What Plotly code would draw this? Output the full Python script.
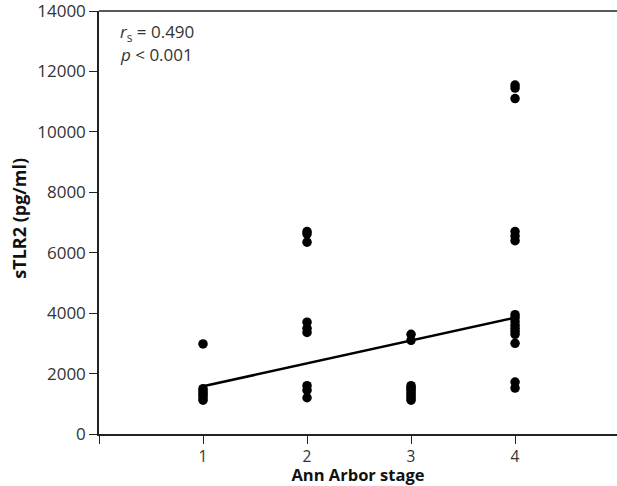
import plotly.graph_objects as go

# Ann Arbor stage of each patient and measured sTLR2 concentration (pg/ml)
stage_1 = [2980, 1500, 1430, 1350, 1280, 1200, 1120]
stage_2 = [6700, 6620, 6350, 3700, 3500, 3360, 1600, 1450, 1200]
stage_3 = [3300, 3100, 1600, 1540, 1470, 1400, 1330, 1260, 1190, 1120]
stage_4 = [11550, 11450, 11100, 6700, 6550, 6400, 3950, 3850, 3720, 3600,
           3500, 3400, 3300, 3000, 1720, 1520]

# Linear trend drawn across the stage range
fit_stage = [1, 4]
fit_value = [1580, 3850]

x_tick_vals = [0, 1, 2, 3, 4]
x_tick_text = ["", "1", "2", "3", "4"]
y_tick_vals = [0, 2000, 4000, 6000, 8000, 10000, 12000, 14000]
y_tick_text = ["0", "2000", "4000", "6000", "8000", "10000", "12000", "14000"]

xs, ys = [], []
for stage, values in enumerate([stage_1, stage_2, stage_3, stage_4], start=1):
    xs += [stage] * len(values)
    ys += values

fig = go.Figure()
fig.add_trace(go.Scatter(
    x=xs, y=ys, mode="markers",
    marker=dict(color="black", size=9.5, line=dict(width=0)),
    showlegend=False, hoverinfo="skip",
))
fig.add_trace(go.Scatter(
    x=fit_stage, y=fit_value, mode="lines",
    line=dict(color="black", width=2.5),
    showlegend=False, hoverinfo="skip",
))

axis_color = "#222222"
font_family = "Open Sans, DejaVu Sans, sans-serif"
fig.update_layout(
    template="none",
    width=617, height=486,
    margin=dict(l=99, r=0, t=11, b=52, autoexpand=False),
    paper_bgcolor="white", plot_bgcolor="white",
    font=dict(family=font_family, size=18, color="#333333"),
    xaxis=dict(
        range=[0, 4.98], tickvals=x_tick_vals, ticktext=x_tick_text,
        showgrid=False, zeroline=False, automargin=False, mirror=False,
        showline=True, linecolor=axis_color, linewidth=1.5,
        ticks="outside", ticklen=8, tickwidth=1.2, tickcolor=axis_color,
        tickfont=dict(size=15.5), ticklabeloverflow="allow",
        title=dict(text="<b>Ann Arbor stage</b>", font=dict(size=16.5, color="#111111"),
                   standoff=6),
    ),
    yaxis=dict(
        range=[0, 14000], tickvals=y_tick_vals, ticktext=y_tick_text,
        showgrid=False, zeroline=False, automargin=False, mirror=False,
        showline=True, linecolor=axis_color, linewidth=1.5,
        ticks="outside", ticklen=8, tickwidth=1.2, tickcolor=axis_color,
        tickfont=dict(size=17), ticklabeloverflow="allow",
    ),
    shapes=[
        # keep the right edge of the plot area open
        dict(type="rect", xref="paper", yref="paper", x0=0.992, x1=1.0,
             y0=0.005, y1=0.995, layer="above",
             fillcolor="white", line=dict(width=0)),
        # top frame line
        dict(type="line", xref="paper", yref="paper", x0=0, x1=1.0, y0=1, y1=1,
             layer="above", line=dict(color=axis_color, width=1.5)),
    ],
    annotations=[
        # y-axis title
        dict(x=-0.156, y=0.5, xref="paper", yref="paper", xanchor="center",
             yanchor="middle", yshift=4, textangle=-90,
             text="<b>sTLR2 (pg/ml)</b>", showarrow=False,
             font=dict(size=18, color="#111111")),
        dict(x=0.18, y=13300, xref="x", yref="y", xanchor="left", yanchor="middle",
             text="<i>r</i><sub>s</sub> = 0.490", showarrow=False,
             font=dict(size=17, color="#333333")),
        dict(x=0.18, y=12560, xref="x", yref="y", xanchor="left", yanchor="middle",
             text="<i>p</i> &lt; 0.001", showarrow=False,
             font=dict(size=17, color="#333333")),
    ],
)

fig.write_html("out.html")
